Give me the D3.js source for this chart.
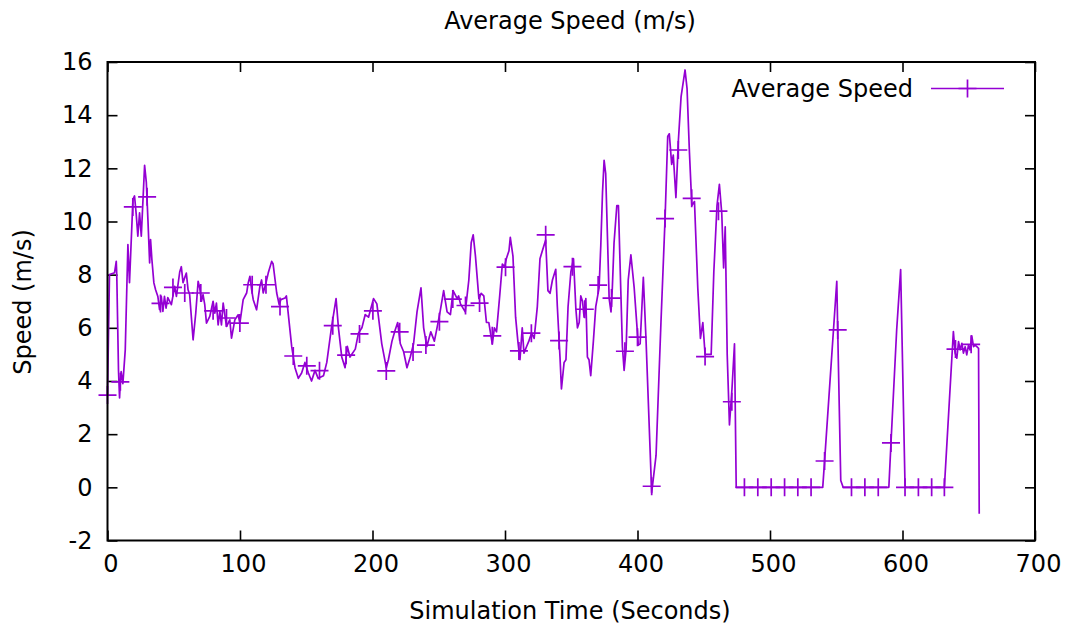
<!DOCTYPE html>
<html>
<head>
<meta charset="utf-8">
<script src="https://cdn.jsdelivr.net/npm/d3@7"></script>
<style>
  body { margin: 0; background: #fff; }
  svg text { font-family: "DejaVu Sans", sans-serif; fill: #000; }
</style>
</head>
<body>
<div id="chart"></div>
<script>
// line samples (seconds, m/s)
var time = [0, 1.5, 5.3, 6.6, 7.0, 8.3, 9.1, 9.7, 10.3, 11.6, 13.4, 15.4, 16.6, 19.2, 20.4, 21.7, 22.9, 24.2, 25.5, 28.0,
    29.3, 30.5, 31.8, 32.5, 33.5, 35.0, 36.3, 38.0, 39.3, 40.6, 41.8, 43.0, 44.2, 45.5, 48.2, 50.7, 52.0, 54.5, 55.7, 57.0,
    59.5, 60.8, 62.0, 64.6, 66.6, 68.4, 69.6, 70.9, 72.1, 73.4, 74.7, 77.2, 79.7, 81.0, 82.2, 83.5, 84.8, 86.0, 87.3, 89.8,
    92.3, 93.6, 96.1, 98.6, 99.9, 102.4, 105.0, 106.2, 107.5, 108.8, 110.0, 112.5, 115.0, 116.3, 117.5, 119.6, 121.3, 123.9, 125.0, 127.7,
    129.6, 130.8, 134.0, 135, 139, 141.5, 144, 146.5, 149, 151.6, 154, 156.6, 159, 163, 165.5, 169, 172.5, 174.3, 176.8, 179.3,
    181, 183, 187, 189.4, 192, 194.5, 197, 200.8, 203.3, 207, 210.4, 212, 214.7, 217, 219, 221, 223.5, 226, 228.5, 231,
    233.6, 236.6, 238.6, 241, 244, 246.7, 248.7, 251, 253.7, 256.3, 258.8, 260.8, 263.9, 265, 266.4, 270, 272.7, 274.5, 276, 277.7,
    280.3, 282, 284, 286, 287.8, 290.4, 292, 293.6, 296, 298, 299.7, 301, 303, 304, 306, 308, 309.7, 311.3, 313, 314.3,
    316.3, 318, 320, 322, 324.4, 326.4, 328.2, 330.7, 332.4, 334, 335.8, 338.3, 339.5, 341.5, 342.6, 344.6, 346, 347.6, 349.7, 351.7,
    353.5, 354.7, 356, 357.2, 358.5, 359.7, 361, 362.2, 363.4, 364.7, 366.7, 368.5, 371, 372.3, 373.6, 374.8, 376, 377.4, 378.6, 380,
    381, 382.3, 384.4, 385.6, 387.4, 388.6, 389.9, 391.4, 393, 395, 397.5, 398.8, 400.6, 402, 404.4, 406.4, 410.7, 414, 417.7, 420.8,
    422.8, 424, 425.8, 427, 429, 430.8, 432.9, 435.9, 437.4, 439.2, 441, 443, 445.5, 447.5, 449.3, 451, 455.6, 457.6, 460, 461.8,
    463.6, 465, 466.2, 467.7, 469.4, 471.3, 473.2, 474.5, 539.8, 541.2, 550.4, 551.1, 553.4, 555.2, 589.7, 591.3, 595.6, 598.6, 601.9, 602.5,
    631.6, 638.4, 639.7, 641, 642.3, 643.5, 644.8, 646, 647.3, 648.5, 649.8, 651, 652.3, 653.6, 654.8, 656.1, 657.4, 657.9];
var speed = [3.47, 8.0, 8.07, 8.5, 8.0, 4.4, 3.36, 3.97, 4.35, 3.9, 5.17, 9.13, 7.7, 10.83, 10.96, 10.26, 9.45, 10.33, 9.45, 12.11,
    11.47, 10.08, 8.44, 9.32, 8.57, 7.69, 7.43, 7.18, 6.68, 7.18, 6.62, 7.18, 6.74, 7.14, 6.87, 7.56, 7.18, 8.1, 8.3, 7.7,
    8.06, 7.43, 7.25, 5.55, 6.55, 7.75, 7.5, 7.0, 7.25, 6.87, 6.18, 6.43, 7.0, 6.55, 6.93, 6.11, 6.62, 6.11, 6.93, 6.05,
    6.3, 5.61, 6.3, 6.49, 6.18, 7.06, 7.31, 7.69, 7.94, 7.43, 7.06, 6.68, 7.56, 7.8, 7.31, 7.69, 8.06, 8.5, 8.4, 7.31,
    6.87, 7.06, 7.12, 7.2, 5.3, 4.5, 4.1, 4.3, 4.7, 4.3, 4.0, 4.4, 4.1, 4.2, 4.7, 6.0, 7.1, 6.0, 4.9, 4.5,
    5.3, 4.9, 5.2, 5.8, 6.0, 6.5, 6.4, 7.1, 6.9, 5.4, 4.5, 4.8, 5.5, 5.9, 6.2, 5.4, 5.1, 4.5, 4.9, 5.4,
    6.6, 7.5, 6.0, 5.3, 5.85, 5.5, 6.0, 6.6, 7.4, 6.6, 6.5, 7.4, 7.1, 7.2, 6.9, 6.6, 7.8, 9.2, 9.5, 8.7,
    7.1, 7.3, 7.2, 6.2, 6.2, 5.4, 6.0, 5.85, 7.2, 8.4, 8.3, 8.6, 8.9, 9.4, 8.7, 6.4, 5.5, 4.8, 6.0, 5.05,
    5.3, 5.5, 5.8, 5.6, 6.8, 8.6, 8.9, 9.3, 7.4, 7.3, 7.8, 8.2, 6.8, 4.9, 3.7, 4.7, 4.8, 6.8, 8.1, 8.6,
    6.7, 6.0, 6.2, 7.2, 7.0, 6.4, 7.1, 4.9, 4.8, 4.2, 5.5, 6.8, 7.5, 9.1, 11.1, 12.3, 11.8, 9.3, 7.1, 6.6,
    7.5, 9.2, 10.6, 10.6, 7.4, 5.3, 4.4, 5.2, 7.8, 8.75, 7.5, 6.6, 5.35, 5.4, 7.9, 5.6, -0.2, 1.2, 6.2, 10.1,
    13.2, 13.3, 12.15, 12.5, 10.9, 13.0, 14.7, 15.7, 15.0, 12.6, 10.6, 10.75, 7.5, 5.6, 6.2, 5.0, 5.0, 8.1, 10.6, 11.4,
    10.3, 8.25, 9.8, 5.0, 2.35, 3.7, 5.4, 0, 0, 0.99, 7.75, 5.92, 0.26, 0, 0, 1.67, 5.92, 8.19, 0.07, 0,
    0, 5.86, 5.05, 4.86, 5.48, 5.17, 5.42, 5.05, 5.29, 4.98, 5.35, 5.17, 5.7, 5.29, 5.35, 5.29, 5.23, -0.99];

// every tenth sample gets a "+" marker
var markTime = [0, 9.7, 19.1, 29.9, 40, 49.4, 58.3, 70.4, 79.7, 89.8, 99.9, 109.2, 119.6, 130.2, 140.2, 150.4, 160, 170, 180.1, 190.2,
    200.3, 210.4, 220.5, 230.6, 240.3, 250.5, 260.6, 270.2, 280.8, 290.4, 300.4, 310.5, 319.9, 330.7, 340.8, 350.9, 360.2, 370.3, 380.4, 390.5,
    400, 410.7, 420.8, 430.8, 440.9, 451, 461.1, 471.2, 480.7, 490.8, 500.9, 511, 521, 531, 541.2, 551.1, 561.5, 571.6, 581.7, 591.3,
    601.9, 612, 622, 631.6, 640, 651.8];
var markSpeed = [3.47, 3.97, 10.55, 10.93, 6.92, 7.52, 7.31, 7.31, 6.64, 6.37, 6.18, 7.62, 7.62, 6.8, 4.94, 4.57, 4.39, 6.08, 4.97, 5.77,
    6.64, 4.38, 5.85, 5.09, 5.35, 6.23, 7.08, 6.84, 6.93, 5.70, 8.28, 5.13, 5.8, 9.5, 5.52, 8.3, 6.7, 7.61, 7.12, 5.12,
    5.65, 0.04, 10.11, 12.69, 10.87, 4.92, 10.39, 3.22, 0, 0, 0, 0, 0, 0, 0.99, 5.92, 0, 0, 0, 1.67,
    0, 0, 0, 0, 5.2, 5.38];

var xTicks = [0, 100, 200, 300, 400, 500, 600, 700];
var yTicks = [-2, 0, 2, 4, 6, 8, 10, 12, 14, 16];

var width = 1066, height = 625;
var margin = { left: 107.5, right: 31, top: 62, bottom: 84.5 };
var purple = "#9400d3";

var svg = d3.select("#chart").append("svg")
    .attr("width", width)
    .attr("height", height);

var x = d3.scaleLinear().domain([0, 700]).range([margin.left, width - margin.right]);
var y = d3.scaleLinear().domain([-2, 16]).range([height - margin.bottom, margin.top]);

var fs = 24;
var plain = function(d) { return String(d); }; // gnuplot writes "-2" with a hyphen

// axes, ticks pointing inwards on all four sides
svg.append("g")
    .attr("transform", "translate(0," + y(-2) + ")")
    .call(d3.axisBottom(x).tickValues(xTicks).tickSize(-10).tickPadding(14).tickFormat(plain))
    .call(function(g) {
        g.select(".domain").remove();
        g.selectAll("text").attr("font-size", fs).attr("dx", 3);
    });
svg.append("g")
    .attr("transform", "translate(0," + y(16) + ")")
    .call(d3.axisTop(x).tickValues(xTicks).tickSize(-10).tickFormat(""))
    .select(".domain").remove();
svg.append("g")
    .attr("transform", "translate(" + x(0) + ",0)")
    .call(d3.axisLeft(y).tickValues(yTicks).tickSize(-10).tickPadding(15).tickFormat(plain))
    .call(function(g) {
        g.select(".domain").remove();
        g.selectAll("text").attr("font-size", fs);
    });
svg.append("g")
    .attr("transform", "translate(" + x(700) + ",0)")
    .call(d3.axisRight(y).tickValues(yTicks).tickSize(-10).tickFormat(""))
    .select(".domain").remove();

svg.selectAll(".tick line").attr("stroke", "#000").attr("stroke-width", 1.6);

// data line
var data = time.map(function(t, i) { return [t, speed[i]]; });
var line = d3.line()
    .x(function(d) { return x(d[0]); })
    .y(function(d) { return y(d[1]); });

svg.append("path")
    .datum(data)
    .attr("fill", "none")
    .attr("stroke", purple)
    .attr("stroke-width", 1.7)
    .attr("stroke-linejoin", "round")
    .attr("d", line);

function plus(g, cx, cy) {
    g.append("path")
        .attr("d", "M" + (cx - 9) + "," + cy + "H" + (cx + 9) + "M" + cx + "," + (cy - 9) + "V" + (cy + 9))
        .attr("stroke", purple)
        .attr("stroke-width", 1.7)
        .attr("fill", "none");
}

var marks = svg.append("g").attr("class", "marks");
markTime.forEach(function(t, i) {
    plus(marks, x(t), y(markSpeed[i]));
});

// frame
svg.append("rect")
    .attr("x", x(0))
    .attr("y", y(16))
    .attr("width", x(700) - x(0))
    .attr("height", y(-2) - y(16))
    .attr("fill", "none")
    .attr("stroke", "#000")
    .attr("stroke-width", 2);

// titles
svg.append("text")
    .attr("x", 570)
    .attr("y", 29)
    .attr("text-anchor", "middle")
    .attr("font-size", fs)
    .text("Average Speed (m/s)");

svg.append("text")
    .attr("x", 570)
    .attr("y", 619)
    .attr("text-anchor", "middle")
    .attr("font-size", fs)
    .text("Simulation Time (Seconds)");

svg.append("text")
    .attr("transform", "translate(31,302) rotate(-90)")
    .attr("text-anchor", "middle")
    .attr("font-size", fs)
    .text("Speed (m/s)");

// legend
var key = svg.append("g").attr("class", "key");
key.append("text")
    .attr("x", 913)
    .attr("y", 97)
    .attr("text-anchor", "end")
    .attr("font-size", fs)
    .text("Average Speed");
key.append("line")
    .attr("x1", 931).attr("x2", 1004)
    .attr("y1", 88.5).attr("y2", 88.5)
    .attr("stroke", purple)
    .attr("stroke-width", 1.7);
plus(key, 967.5, 88.5);
</script>
</body>
</html>
